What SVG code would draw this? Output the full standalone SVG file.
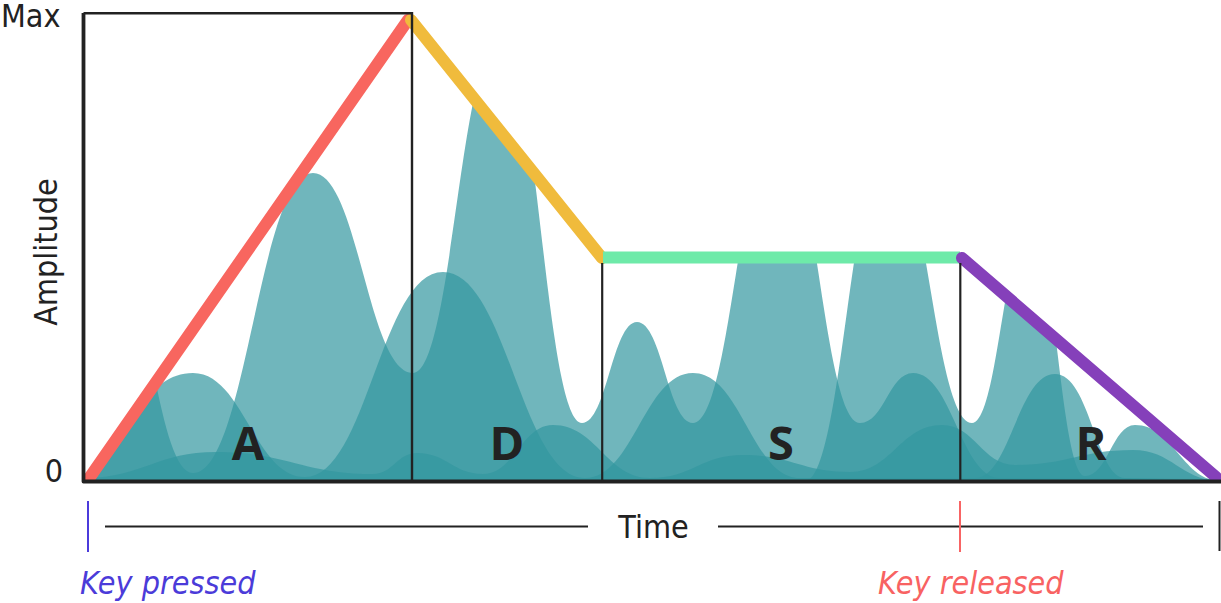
<svg xmlns="http://www.w3.org/2000/svg" width="1221" height="603" viewBox="0 0 1221 603">
<style>
.w{fill:#33979f;fill-opacity:.7}
.env{fill:none;stroke-width:12}
.ax{fill:none;stroke:#222;stroke-linecap:butt}
.t{font-family:'DejaVu Sans Condensed','DejaVu Sans',sans-serif;font-stretch:condensed;font-size:32px;fill:#222}
.ph{font-family:'Open Sans','Noto Sans',sans-serif;font-weight:700;font-size:47px;fill:#222;text-anchor:middle}
.it{font-style:italic}
</style>
<defs>
<clipPath id="envclip"><path d="M88,481 L409,19 L602,258 L960,258 L1218,481 Z"/></clipPath>
</defs>
<g id="waves" clip-path="url(#envclip)">
<path class="w" d="M83,481 L83,250 L110,250 C147.4,250 155.6,473 193,473 C247,473 259,173 313,173 C358,173 368,373 413,373 C452.2,373 460.8,40 500,40 C536.9,40 545.1,423 582,423 C606.8,423 612.3,322 637,322 C662.2,322 667.8,423 693,423 C731.3,423 739.8,130 778,130 C814.9,130 823.1,423 860,423 C883.9,423 889.2,373 913,373 C952.2,373 960.9,478 1000,478 L1221,479 L1221,481 Z"/>
<path class="w" d="M83,481 L805,481 C842.4,481 850.6,150 888,150 C925.8,150 934.2,423 972,423 C998.1,423 1003.9,230 1030,230 C1054.8,230 1060.3,476 1085,476 C1107.5,476 1112.5,425 1135,425 C1173.7,425 1182.3,481 1221,481 Z"/>
<path class="w" d="M83,481 L83,440 C132.5,440 143.5,373 193,373 C243.4,373 254.6,477 305,477 C367.1,477 380.9,272 443,272 C506.9,272 521.1,478 585,478 C633.6,478 644.4,373 693,373 C741.2,373 751.9,478 800,478 L975,478 C1010,478 1018,374 1055,374 C1090,374 1096,478 1125,478 L1221,480 L1221,481 Z"/>
<path class="w" d="M83,481 L83,478 C142.9,478 156.2,452 216,452 C286.7,452 302.4,474 373,474 C392.8,474 397.2,453 417,453 C446.7,453 453.3,474 483,474 C514.5,474 521.5,425 553,425 C596.7,425 606.4,478 650,478 C691.9,478 701.2,455 743,455 C791.2,455 801.9,472 850,472 C891.4,472 900.6,425 942,425 C974.9,425 982.2,465 1015,465 C1068.1,465 1079.9,450 1133,450 C1172.6,450 1181.4,481 1221,481 Z"/>
</g>
<g id="envelope">
<line id="attack" class="env" x1="90" y1="477" x2="408" y2="20" stroke="#f8665f" stroke-linecap="round"/>
<line id="decay" class="env" x1="411" y1="20" x2="602" y2="258" stroke="#f0bb3c" stroke-linecap="round"/>
<line id="sustain" class="env" x1="603" y1="257.5" x2="960" y2="257.5" stroke="#6eeaa9" stroke-linecap="butt"/>
<line id="release" class="env" x1="962" y1="258" x2="1216" y2="477" stroke="#8540ba" stroke-linecap="round"/>
</g>
<g id="axes">
<path class="ax" d="M83.5,13 L83.5,481.5 L1221,481.5" stroke-width="3.8" stroke-linejoin="round"/>
<path class="ax" d="M83.5,13.3 L412,13.3 L412,481" stroke-width="2.4"/>
<line class="ax" x1="602.2" y1="263" x2="602.2" y2="481" stroke-width="2.2"/>
<line class="ax" x1="960.3" y1="263" x2="960.3" y2="481" stroke-width="2.2"/>
</g>
<g id="phases">
<text class="ph" x="248" y="460">A</text>
<text class="ph" x="507" y="460">D</text>
<text class="ph" x="781" y="460">S</text>
<text class="ph" x="1091" y="460">R</text>
</g>
<g id="axis-labels">
<text class="t" x="1" y="26.5">Max</text>
<text class="t" x="63" y="482" text-anchor="end">0</text>
<text class="t" transform="translate(57,252) rotate(-90)" text-anchor="middle">Amplitude</text>
</g>
<g id="timeline">
<line x1="88" y1="501" x2="88" y2="552" stroke="#4b3bdb" stroke-width="2"/>
<line x1="105" y1="526.5" x2="588" y2="526.5" stroke="#222" stroke-width="2"/>
<text class="t" x="653.5" y="538" text-anchor="middle">Time</text>
<line x1="718" y1="526.5" x2="1203" y2="526.5" stroke="#222" stroke-width="2"/>
<line x1="960" y1="501" x2="960" y2="552" stroke="#f86464" stroke-width="2"/>
<line x1="1219.5" y1="501" x2="1219.5" y2="551" stroke="#222" stroke-width="2"/>
<text class="t it" x="80" y="594" style="fill:#4b3bd9">Key pressed</text>
<text class="t it" x="878" y="594" style="fill:#f86262">Key released</text>
</g>
</svg>
